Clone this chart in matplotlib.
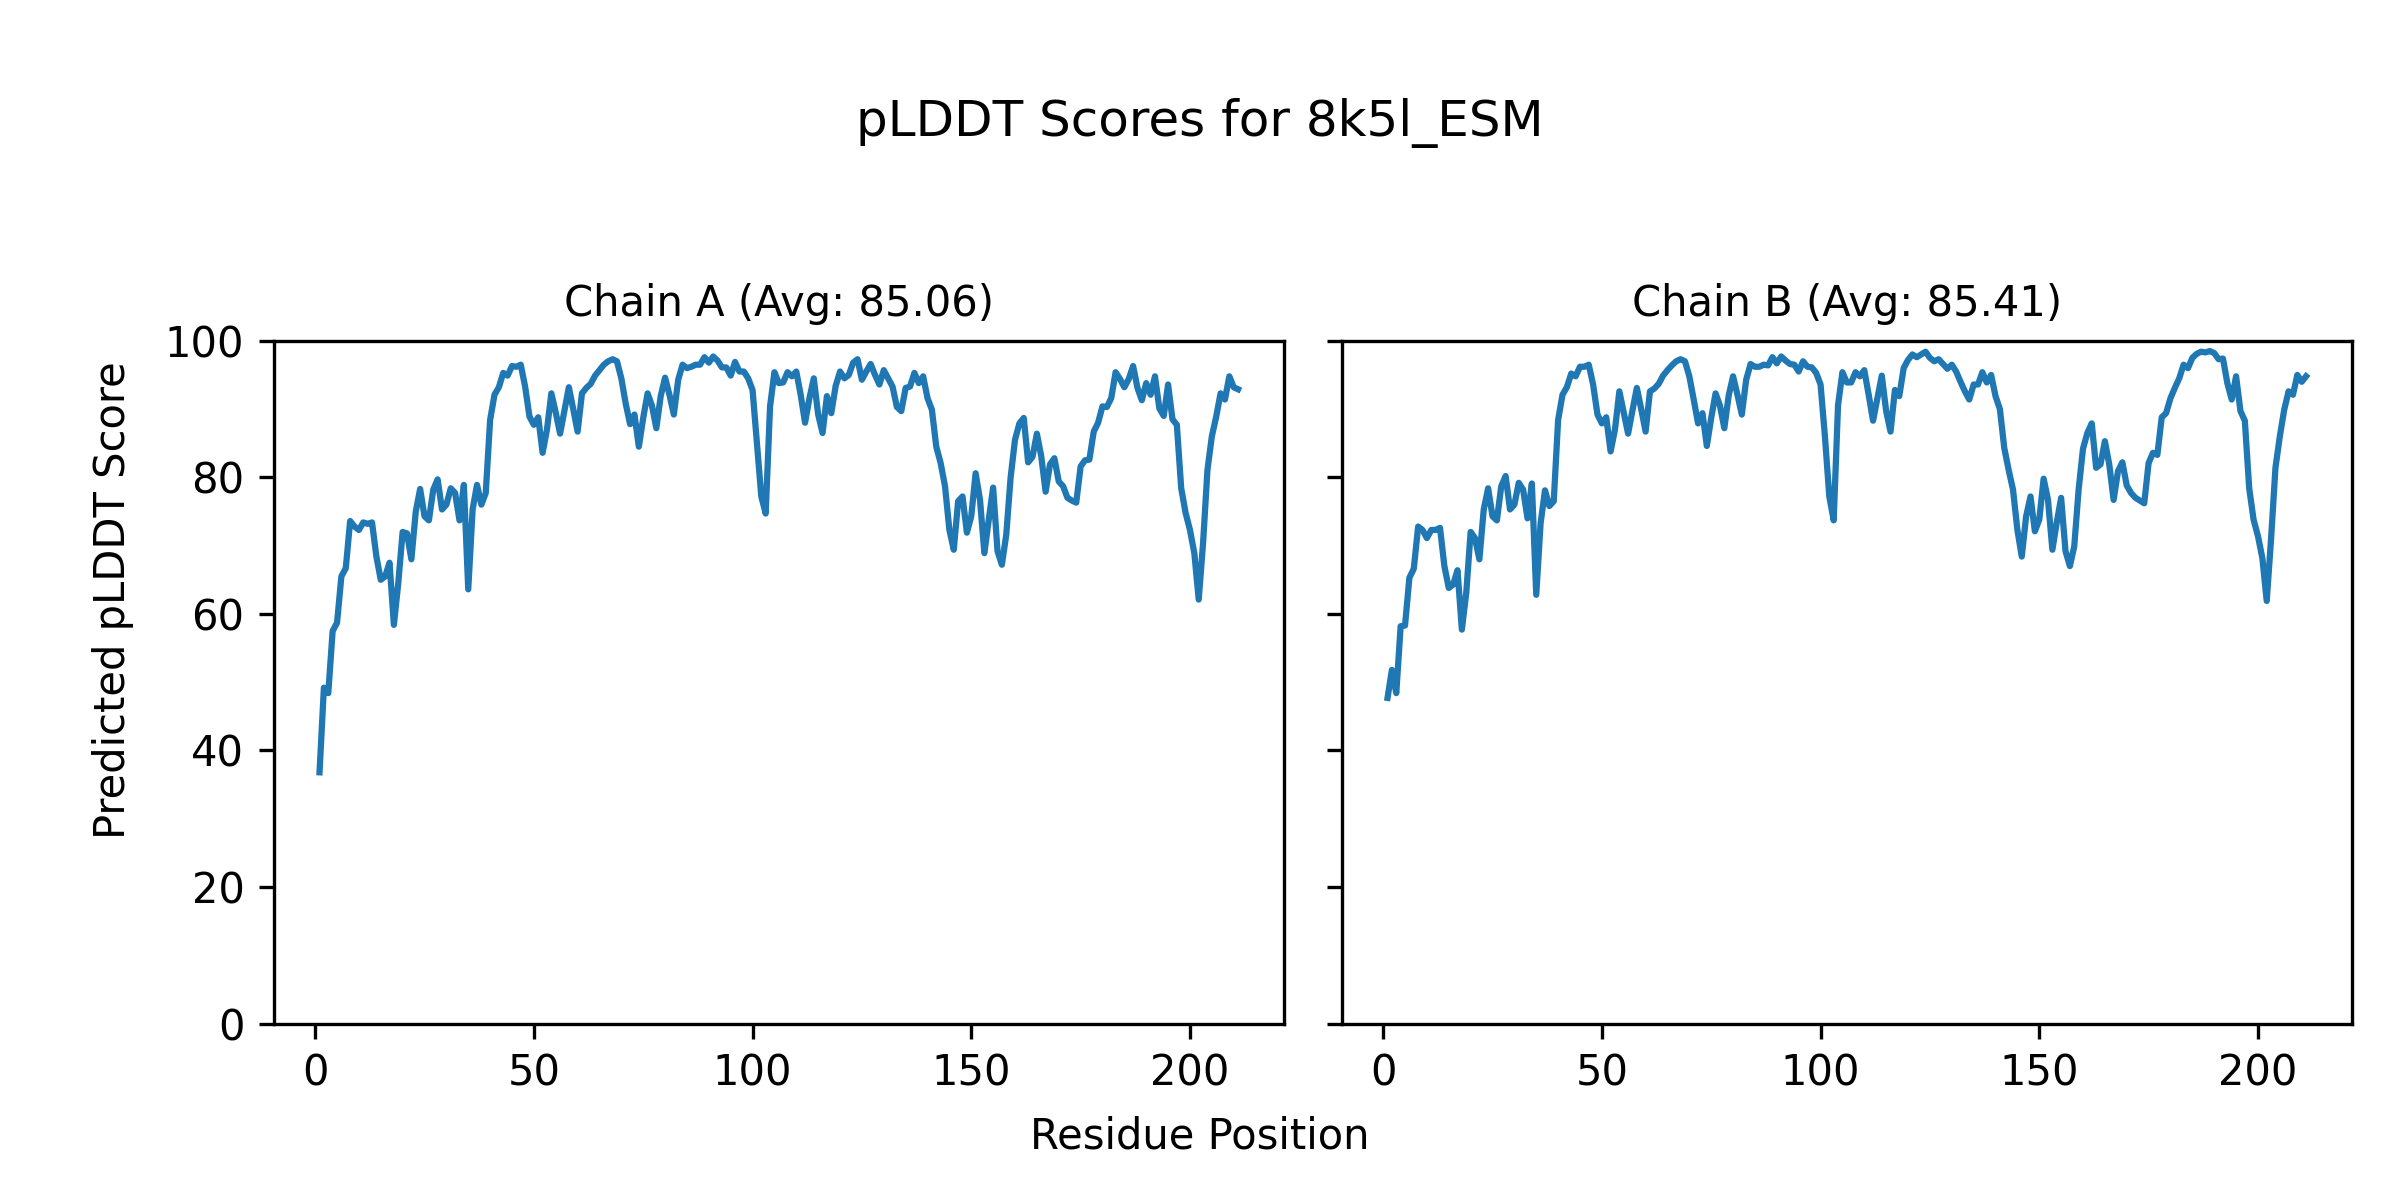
import numpy as np
import matplotlib
matplotlib.use("Agg")
import matplotlib.pyplot as plt

# pLDDT per residue
chain_a = [
    36.8, 49.2, 48.4, 57.5, 58.7, 65.5, 66.7, 73.6, 72.8, 72.3,
    73.4, 73.2, 73.4, 68.4, 65.0, 65.5, 67.5, 58.4, 64.5, 72.0,
    71.8, 68.0, 75.0, 78.3, 74.3, 73.7, 78.2, 79.7, 75.3, 76.0,
    78.4, 77.7, 73.7, 78.9, 63.6, 75.3, 78.9, 76.0, 77.7, 88.4,
    92.1, 93.2, 95.3, 94.9, 96.3, 96.2, 96.5, 93.3, 88.9, 87.7,
    88.8, 83.6, 87.0, 92.3, 89.5, 86.4, 89.8, 93.2, 90.0, 86.7,
    92.3, 93.1, 93.7, 94.9, 95.7, 96.5, 97.0, 97.3, 97.0, 94.5,
    90.8, 87.8, 89.2, 84.5, 88.7, 92.3, 90.5, 87.2, 91.9, 94.6,
    92.1, 89.2, 94.3, 96.5, 96.0, 96.2, 96.5, 96.5, 97.6, 96.8,
    97.7, 97.1, 96.1, 96.1, 94.9, 96.9, 95.5, 95.5, 94.5, 92.8,
    85.0, 77.2, 74.7, 90.4, 95.4, 93.8, 93.9, 95.4, 94.8, 95.5,
    92.1, 88.0, 91.6, 94.5, 89.2, 86.5, 91.9, 89.4, 93.4, 95.5,
    94.5, 95.0, 96.8, 97.3, 94.3, 95.5, 96.6, 95.0, 93.6, 95.7,
    94.5, 93.3, 90.3, 89.7, 93.1, 93.3, 95.3, 93.8, 94.8, 91.6,
    89.9, 84.5, 82.1, 78.7, 72.3, 69.4, 76.5, 77.2, 71.9, 74.3,
    80.6, 76.7, 68.9, 73.8, 78.5, 69.2, 67.2, 71.6, 80.0, 85.5,
    87.9, 88.7, 82.2, 83.0, 86.4, 83.1, 77.9, 81.9, 82.8, 79.4,
    78.7, 77.0, 76.6, 76.3, 81.6, 82.5, 82.6, 86.7, 88.0, 90.4,
    90.3, 91.6, 95.4, 94.4, 93.2, 94.4, 96.3, 93.1, 91.3, 93.8,
    92.1, 94.8, 90.1, 89.0, 93.6, 88.5, 87.7, 78.4, 74.8, 72.3,
    68.9, 62.1, 70.4, 81.1, 86.0, 88.9, 92.3, 91.4, 94.8, 93.2, 92.9,
]

chain_b = [
    47.7, 51.8, 48.4, 58.2, 58.3, 65.3, 66.6, 72.8, 72.3, 71.1,
    72.3, 72.3, 72.6, 67.0, 63.8, 64.3, 66.4, 57.7, 63.1, 72.0,
    71.1, 68.0, 75.3, 78.4, 74.3, 73.7, 78.7, 80.2, 75.3, 76.0,
    79.2, 78.2, 74.0, 79.1, 62.8, 73.3, 78.1, 75.8, 76.5, 88.4,
    92.1, 93.2, 95.2, 94.8, 96.2, 96.2, 96.5, 93.6, 89.2, 87.9,
    88.8, 83.8, 87.0, 92.6, 89.5, 86.4, 89.8, 93.1, 90.0, 86.7,
    92.6, 93.0, 93.7, 94.9, 95.7, 96.4, 97.0, 97.3, 97.0, 94.8,
    91.4, 87.9, 89.4, 84.6, 88.7, 92.3, 90.5, 87.2, 92.0, 94.8,
    92.1, 89.2, 94.3, 96.6, 96.2, 96.2, 96.5, 96.4, 97.6, 96.7,
    97.7, 97.1, 96.6, 96.5, 95.5, 97.0, 96.2, 96.1, 95.3, 93.6,
    86.0, 77.2, 73.7, 90.6, 95.4, 93.9, 93.9, 95.4, 94.8, 95.7,
    92.1, 88.3, 91.6, 94.9, 89.7, 86.7, 92.8, 91.9, 96.0, 97.2,
    98.0, 97.6, 98.0, 98.4, 97.5, 97.0, 97.3, 96.6, 95.9, 96.5,
    95.5, 94.0, 92.6, 91.4, 93.6, 93.6, 95.4, 93.9, 95.0, 91.9,
    90.0, 84.3, 81.1, 78.2, 72.3, 68.4, 74.3, 77.2, 72.1, 73.8,
    79.8, 76.7, 69.4, 73.4, 77.0, 69.2, 67.0, 69.9, 78.2, 84.2,
    86.5, 87.9, 81.4, 81.9, 85.3, 81.9, 76.7, 80.9, 82.2, 78.8,
    77.7, 77.0, 76.6, 76.2, 82.1, 83.6, 83.3, 88.8, 89.4, 91.6,
    93.1, 94.5, 96.5, 96.0, 97.5, 98.1, 98.4, 98.3, 98.5, 98.2,
    97.3, 97.4, 93.8, 91.4, 94.8, 89.7, 88.3, 78.4, 73.8, 71.4,
    68.2, 61.9, 71.0, 81.4, 86.0, 89.9, 92.6, 92.1, 95.0, 94.0, 94.8,
]

chain_names = ["A", "B"]
chain_avgs = [85.06, 85.41]
protein = "8k5l_ESM"


def plot_plddt():
    fig, axes = plt.subplots(1, 2, figsize=(8, 4), dpi=300, sharey=True)

    for ax, name, avg, scores in zip(axes, chain_names, chain_avgs, [chain_a, chain_b]):
        positions = np.arange(1, len(scores) + 1)
        ax.plot(positions, scores, color="#1f77b4", linewidth=1.5)
        ax.set_title(f"Chain {name} (Avg: {avg:.2f})", fontsize=10)
        ax.set_ylim(0, 100)

    fig.suptitle(f"pLDDT Scores for {protein}", y=0.918, fontsize=12)
    fig.text(0.5, 0.053, "Residue Position", ha="center", va="center")
    fig.text(0.047, 0.5, "Predicted pLDDT Score", ha="center", va="center", rotation=90)

    plt.subplots_adjust(left=0.114, right=0.98, bottom=0.147, top=0.716, wspace=0.057)
    plt.savefig("out.png", dpi=300)


if __name__ == "__main__":
    plot_plddt()
